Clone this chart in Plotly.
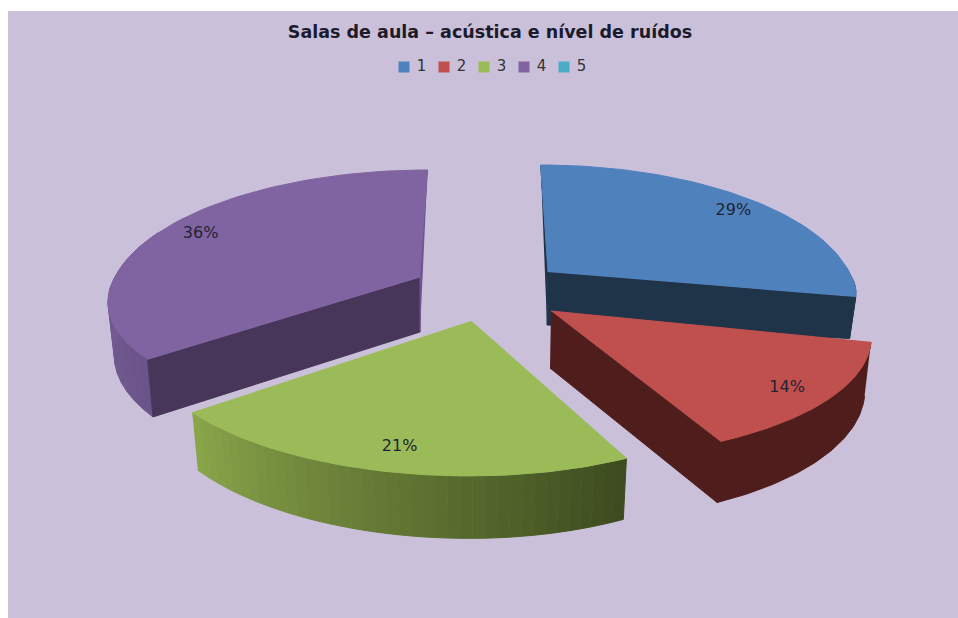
import math
import plotly.graph_objects as go

# ---- data ----
categories = ["1", "2", "3", "4", "5"]
percent = [29, 14, 21, 36, 0]
title_text = "Salas de aula – acústica e nível de ruídos"

# ---- style ----
top_colors = ["#4F81BD", "#C0504D", "#9BBB59", "#8064A2", "#4BACC6"]
side_colors = ["#1F3349", "#4F1E1C", "#3C4A1E", "#473659", "#4BACC6"]
plate = "#CBC0DA"

# ---- 3D projection of the exploded disc (pixel axes) ----
apex = {0: (548, 272), 1: (551, 311), 2: (471, 321), 3: (420, 277)}
radius = {0: 301, 1: 313, 2: 312, 3: 305}
skew = {0: 0, 1: 0, 2: -0.025, 3: 0}
near = {0: 0.76, 1: 0.95, 2: 1.0, 3: 0.9}
K = 0.183
B = 126.6
CX = 485
DEPTH = 51


def spans():
    out, a = [], 0.0
    for p in percent:
        b = a + p * 3.6
        out.append((a, b))
        a = b
    return out


def project(i, deg, f=1.0, low=False, raw=False):
    t = math.radians(deg)
    sx, cy = math.sin(t) * f, math.cos(t) * f
    s = 1 / (1 + K * cy)
    ax, ay = apex[i]
    r = radius[i] * (1 + skew[i] * math.sin(t))
    dx = r * sx * s
    x = ax + (ax - CX) * (s - 1) * 0.75 + dx
    dy = B * cy * s
    if cy < 0 and not raw:
        dy *= near[i]
    y = ay - dy
    if low:
        h = DEPTH * s
        if i == 0:
            h = 54 - 13 * max(sx, 0)
        x = ax + (x - ax) * 0.98
        y += h
    return x, y


def poly(xy, color, name=None):
    return go.Scatter(
        x=[p[0] for p in xy], y=[p[1] for p in xy], mode="lines", fill="toself",
        fillcolor=color, line=dict(color=color, width=1), name=name,
        hoverinfo="skip", showlegend=False,
    )


def arc(i, a, b, low=False, n=60):
    return [project(i, a + (b - a) * k / n, low=low) for k in range(n + 1)]


def lerp(c1, c2, u):
    v = [round(c1[j] + (c2[j] - c1[j]) * u) for j in range(3)]
    return f"rgb({v[0]},{v[1]},{v[2]})"


def bands(i, a, b, c1, c2, n):
    res = []
    for k in range(n):
        u0, u1 = a + (b - a) * k / n, a + (b - a) * (k + 1) / n
        res.append(poly(arc(i, u0, u1, n=4) + arc(i, u1, u0, low=True, n=4),
                        lerp(c1, c2, (k + 0.5) / n)))
    return res


fig = go.Figure()
sp = spans()

# purple (far left)
a, b = sp[3]
for tr in bands(3, a, 292, (106, 84, 136), (122, 96, 156), 16):
    fig.add_trace(tr)
low3 = (apex[3][0], apex[3][1] + 55)
fig.add_trace(poly([project(3, a), project(3, a, low=True), low3, apex[3]], side_colors[3]))
fig.add_trace(poly([project(3, b), apex[3], low3], "#6E5490"))
fig.add_trace(poly([apex[3]] + arc(3, a, b), top_colors[3], categories[3]))

# blue (far right)
a, b = sp[0]
low0 = (apex[0][0] - 1, apex[0][1] + 53)
fig.add_trace(poly([project(0, a), apex[0], low0], side_colors[0]))
fig.add_trace(poly(arc(0, 88, b) + arc(0, b, 88, low=True), side_colors[0]))
fig.add_trace(poly([apex[0], project(0, b), project(0, b, low=True), low0], side_colors[0]))
fig.add_trace(poly([apex[0]] + arc(0, a, b), top_colors[0], categories[0]))

# red
a, b = sp[1]
fig.add_trace(poly(arc(1, a, b) + arc(1, b, a, low=True), side_colors[1]))
fig.add_trace(poly([apex[1], project(1, b), project(1, b, low=True), (apex[1][0] - 1, apex[1][1] + 57)], side_colors[1]))
fig.add_trace(poly([apex[1]] + arc(1, a, b), top_colors[1], categories[1]))

# green
a, b = sp[2]
for tr in bands(2, b, a, (138, 166, 74), (60, 74, 30), 40):
    fig.add_trace(tr)
fig.add_trace(poly([apex[2]] + arc(2, a, b), top_colors[2], categories[2]))

# percentage labels, placed from each slice's mid angle
for i in range(4):
    a, b = sp[i]
    x, y = project(i, (a + b) / 2, f=0.86, raw=True)
    fig.add_trace(go.Scatter(
        x=[x + (3 if i == 0 else 0)], y=[y], mode="text", text=[f"{percent[i]}%"], showlegend=False,
        hoverinfo="skip", textfont=dict(family="DejaVu Sans", size=16, color="#1F2333"),
    ))

# legend row
for i, c in enumerate(categories):
    fig.add_trace(go.Scatter(
        x=[404 + 40 * i], y=[67], mode="markers+text", text=[f"\u00a0{c}"], textposition="middle right",
        marker=dict(symbol="square", size=11, color=top_colors[i]), name=c,
        textfont=dict(family="DejaVu Sans", size=15, color="#333333"),
        hoverinfo="skip", showlegend=False,
    ))

fig.update_layout(
    width=958, height=618, margin=dict(l=0, r=0, t=0, b=0), showlegend=False,
    paper_bgcolor="white", plot_bgcolor="white",
    xaxis=dict(range=[0, 958], visible=False, fixedrange=True),
    yaxis=dict(range=[618, 0], visible=False, fixedrange=True),
    shapes=[dict(type="rect", xref="x", yref="y", x0=8, y0=11, x1=958, y1=618,
                 fillcolor=plate, line_width=0, layer="below")],
    title=dict(text=f"<b>{title_text}</b>", x=490 / 958, y=1 - 32 / 618, xanchor="center",
               yanchor="middle", font=dict(family="DejaVu Sans", size=17.5, color="#1B1B2B")),
)
fig.write_html("out.html", config=dict(displayModeBar=False),
               post_script="document.body.style.margin='0';")
